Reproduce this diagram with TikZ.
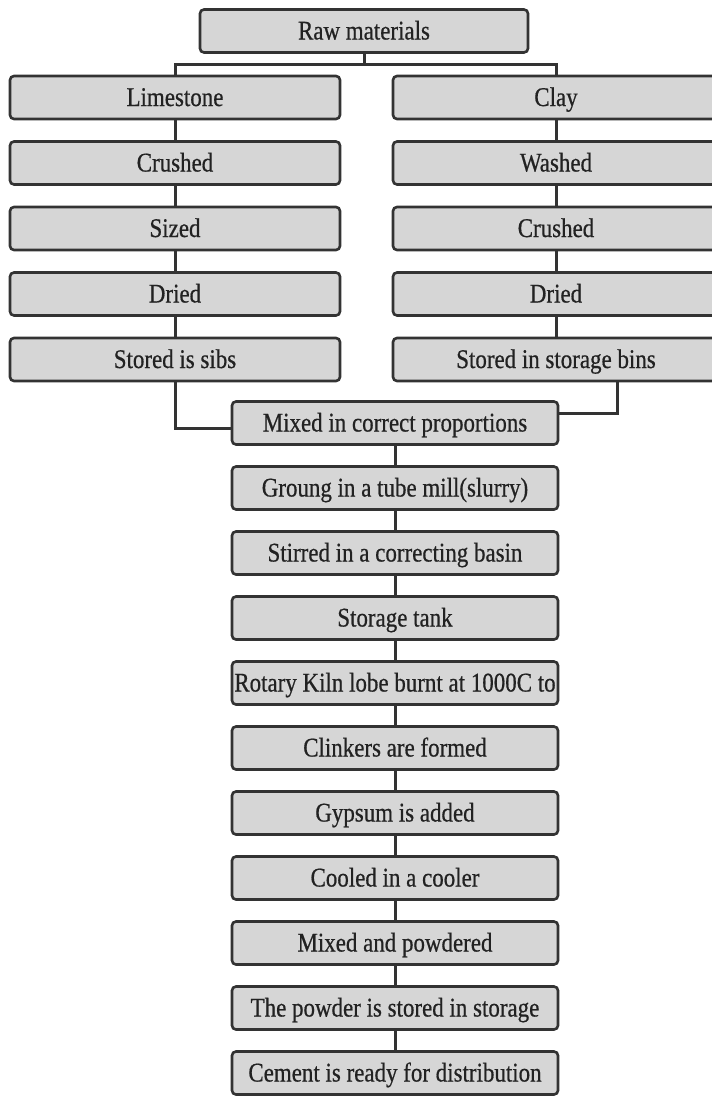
\documentclass[tikz,border=0pt]{standalone}
\usepackage{fontspec}
\setmainfont{Liberation Serif}[FakeStretch=0.85, FakeBold=0.6]
\usepackage{xcolor}
\usepackage{tikz}

\definecolor{boxfill}{HTML}{D6D6D6}
\definecolor{boxline}{HTML}{333333}
\definecolor{inkgray}{HTML}{222222}

\tikzset{
  every stage/.style={draw=boxline, line width=2.6pt, fill=boxfill, rounded corners=4pt,
    minimum width=326pt, minimum height=43pt, inner xsep=1pt, text=inkgray,
    text height=20pt, text depth=3pt,
    font=\fontsize{27}{30}\selectfont},
  link/.style={draw=boxline, line width=3pt}
}

\begin{document}
\begin{tikzpicture}[x=1pt, y=-1pt]

\useasboundingbox (0,0) rectangle (712,1098);
\clip (0,0) rectangle (712,1098);

\node [every stage, minimum width=328pt] (raw) at (364,31) {Raw materials};

\foreach \l [count=\y] in {Limestone, Crushed, Sized, Dried, Stored is sibs}
  \node [every stage, minimum width=330pt] (left-\y) at (175,32+\y*65.5) {\l};

\foreach \l [count=\y] in {Clay, Washed, Crushed, Dried, Stored in storage bins}
  \node [every stage] (right-\y) at (556,32+\y*65.5) {\l};

\foreach \l [count=\y] in {Mixed in correct proportions, Groung in a tube mill(slurry),
    Stirred in a correcting basin, Storage tank, Rotary Kiln lobe burnt at 1000C to,
    Clinkers are formed, Gypsum is added, Cooled in a cooler, Mixed and powdered,
    The powder is stored in storage, Cement is ready for distribution}
  \node [every stage] (main-\y) at (395,358+\y*65) {\l};

\draw [link] (raw.south) -- ++(0,11) -| (left-1.north);
\draw [link] (raw.south) -- ++(0,11) -| (right-1.north);

\foreach \i [count=\j from 2] in {1,...,4}
  \draw [link] (left-\i) -- (left-\j);

\foreach \i [count=\j from 2] in {1,...,4}
  \draw [link] (right-\i) -- (right-\j);

\draw [link] (left-5.south) |- ([yshift=-5pt]main-1.west);
\draw [link] ([xshift=61pt]right-5.south) |- ([yshift=10pt]main-1.east);

\foreach \i [count=\j from 2] in {1,...,10}
  \draw [link] (main-\i) -- (main-\j);

\end{tikzpicture}
\end{document}
